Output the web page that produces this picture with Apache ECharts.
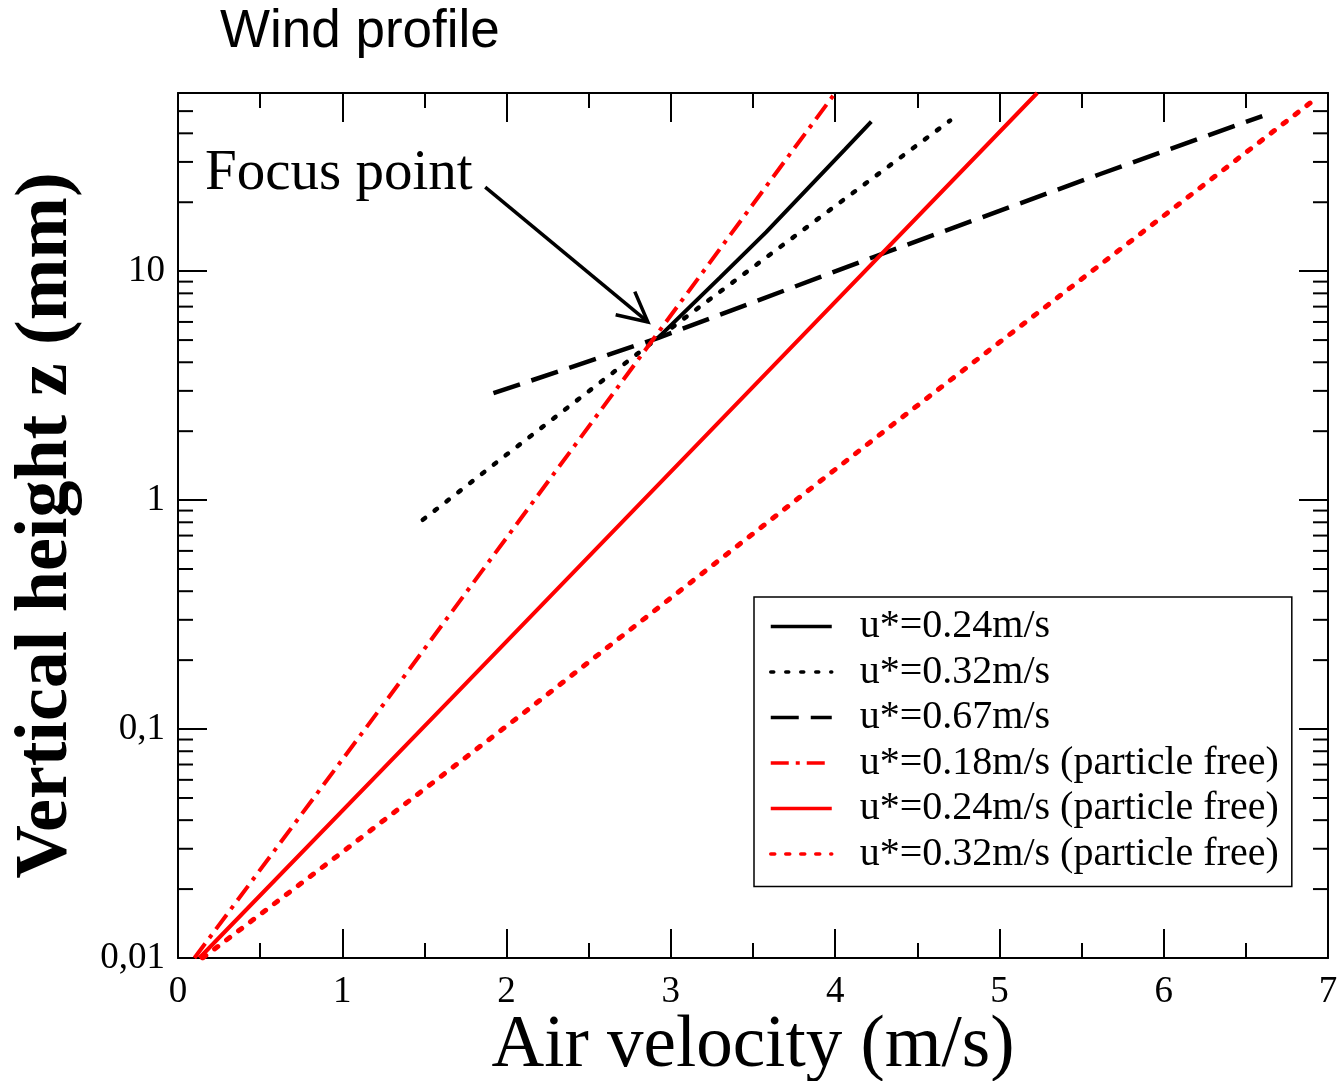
<!DOCTYPE html>
<html><head><meta charset="utf-8">
<script src="https://cdn.jsdelivr.net/npm/echarts@6/dist/echarts.min.js"></script>
<style>html,body{margin:0;padding:0;background:#fff}#c{width:1344px;height:1081px}</style>
</head><body><div id="c"></div>
<script>
// ---- data ----
const seriesNames = [
  'u*=0.24m/s',
  'u*=0.32m/s',
  'u*=0.67m/s',
  'u*=0.18m/s (particle free)',
  'u*=0.24m/s (particle free)',
  'u*=0.32m/s (particle free)'
];
const u024 = [[2.92,5.1],[3.3,9.4],[3.58,14.8],[4.06,34],[4.22,45]];
const u032 = [[1.49,0.82],[1.99,1.56],[2.92,5.1],[4.7,45.5]];
const u067 = [[1.92,2.93],[2.92,5.1],[4.23,11.5],[5.61,26.5],[6.6,47.6]];
const pf018 = [[0.1,0.01],[1.25,0.128],[4.0,60]];
const pf024 = [[0.13,0.01],[1.66,0.135],[3.55,3.4],[5.23,60]];
const pf032 = [[0.15,0.01],[1.0,0.029],[2.1,0.117],[4.34,2.11],[6.93,57]];
const xTickLabels = ['0','1','2','3','4','5','6','7'];
const yTickLabels = ['0,01','0,1','1','10'];
const yMinorTicks = [0.02,0.03,0.04,0.05,0.06,0.07,0.08,0.09,
                     0.2,0.3,0.4,0.5,0.6,0.7,0.8,0.9,
                     2,3,4,5,6,7,8,9,
                     20,30,40,50];
const focusFrom = [1.87, 23.3];
const focusTo = [2.86, 6.0];

// ---- chart ----
const SERIF = '"Liberation Serif","Times New Roman",Times,serif';
const chart = echarts.init(document.getElementById('c'), null, {renderer: 'canvas'});
const styles = [
  {color:'#000', width:4, type:'solid', cap:'butt'},
  {color:'#000', width:4.5, type:[3,12], cap:'round'},
  {color:'#000', width:4.5, type:[28,12], cap:'butt'},
  {color:'#ff0000', width:4, type:[18,7,4,7], cap:'butt'},
  {color:'#ff0000', width:4, type:'solid', cap:'butt'},
  {color:'#ff0000', width:5, type:[4,11], cap:'round'}
];
const datas = [u024,u032,u067,pf018,pf024,pf032];

const tickStyle = {color:'#000', width:2};
const baseX = {
  type:'value', min:0, max:7, interval:1,
  axisLine:{show:true, onZero:false, lineStyle:{color:'#000', width:2}},
  axisTick:{show:true, inside:true, length:29, lineStyle:tickStyle},
  minorTick:{show:true, splitNumber:2, length:15, lineStyle:tickStyle},
  splitLine:{show:false}
};
const baseY = {
  type:'log', logBase:10, min:0.01, max:60,
  axisLine:{show:true, onZero:false, lineStyle:{color:'#000', width:2}},
  axisTick:{show:true, inside:true, length:29, lineStyle:tickStyle},
  minorTick:{show:false},
  splitLine:{show:false}
};

const series = datas.map((d,i) => ({
  name: seriesNames[i], type:'line', data:d, symbol:'none', showSymbol:false, smooth:false,
  xAxisIndex:0, yAxisIndex:0, clip:true, animation:false,
  lineStyle:{color:styles[i].color, width:styles[i].width, type:styles[i].type, cap:styles[i].cap},
  itemStyle:{color:styles[i].color}
}));
series.push({
  type:'custom', xAxisIndex:0, yAxisIndex:0, silent:true, animation:false, clip:false,
  data: yMinorTicks.map(v => [0, v]),
  renderItem: function(params, api) {
    const v = api.value(1);
    const p = api.coord([0, v]);
    const q = api.coord([7, v]);
    return {type:'group', children:[
      {type:'line', shape:{x1:p[0], y1:p[1], x2:p[0]+15, y2:p[1]}, style:{stroke:'#000', lineWidth:2}},
      {type:'line', shape:{x1:q[0]-15, y1:q[1], x2:q[0], y2:q[1]}, style:{stroke:'#000', lineWidth:2}}
    ]};
  }
});

const option = {
  backgroundColor:'#fff',
  animation:false,
  title:{text:'Wind profile', left:220, top:6, padding:0,
    textStyle:{fontFamily:'"Liberation Sans",Arial,sans-serif', fontSize:53, fontWeight:'normal', color:'#000'}},
  grid:{left:178, right:16, top:93, bottom:123, containLabel:false, outerBoundsMode:'none'},
  legend:{
    data: seriesNames, orient:'vertical', left:754, top:597,
    backgroundColor:'#fff', borderColor:'#000', borderWidth:1.5, borderRadius:0,
    padding:[9,13,12,15], itemWidth:61, itemHeight:12, itemGap:4.5,
    lineStyle:{width:3.5},
    itemStyle:{opacity:0},
    textStyle:{fontFamily:SERIF, fontSize:40, color:'#000', lineHeight:41, padding:[0,0,0,23]},
    selectedMode:false
  },
  xAxis:[
    Object.assign({}, baseX, {position:'bottom',
      name:'Air velocity (m/s)', nameLocation:'middle', nameGap:52, nameMoveOverlap:false,
      nameTextStyle:{fontFamily:SERIF, fontSize:73, color:'#000', lineHeight:73},
      axisLabel:{show:true, margin:16, fontFamily:SERIF, fontSize:37, color:'#000',
        formatter: v => xTickLabels[Math.round(v)] }}),
    Object.assign({}, baseX, {position:'top', axisLabel:{show:false}})
  ],
  yAxis:[
    Object.assign({}, baseY, {position:'left',
      name:'Vertical height z (mm)', nameLocation:'middle', nameGap:94,
      nameTextStyle:{fontFamily:SERIF, fontSize:74, fontWeight:'bold', color:'#000'},
      axisLabel:{show:true, margin:13, fontFamily:SERIF, fontSize:37, color:'#000',
        formatter: v => { const e = Math.log10(v); const r = Math.round(e);
          if (Math.abs(e - r) > 1e-6 || r < -2 || r > 1) return ''; return yTickLabels[r + 2]; }}}),
    Object.assign({}, baseY, {position:'right', axisLabel:{show:false}})
  ],
  series: series
};
chart.setOption(option);

// annotation: "Focus point" with open arrow, positioned through the axes
const a = chart.convertToPixel({xAxisIndex:0, yAxisIndex:0}, focusFrom);
const b = chart.convertToPixel({xAxisIndex:0, yAxisIndex:0}, focusTo);
const ang = Math.atan2(a[1]-b[1], a[0]-b[0]);
const armLen = 33, spread = 27 * Math.PI / 180;
const arm1 = [b[0] + armLen*Math.cos(ang+spread), b[1] + armLen*Math.sin(ang+spread)];
const arm2 = [b[0] + armLen*Math.cos(ang-spread), b[1] + armLen*Math.sin(ang-spread)];
chart.setOption({
  graphic:[
    {type:'text', left:205, top:146, style:{text:'Focus point', font:'57px ' + SERIF, fill:'#000'}, z:100},
    {type:'line', shape:{x1:a[0], y1:a[1], x2:b[0], y2:b[1]}, style:{stroke:'#000', lineWidth:3.5}, z:100},
    {type:'polyline', shape:{points:[arm1, b, arm2]}, style:{stroke:'#000', lineWidth:3.5, fill:null}, z:100}
  ]
});
</script>
</body></html>
